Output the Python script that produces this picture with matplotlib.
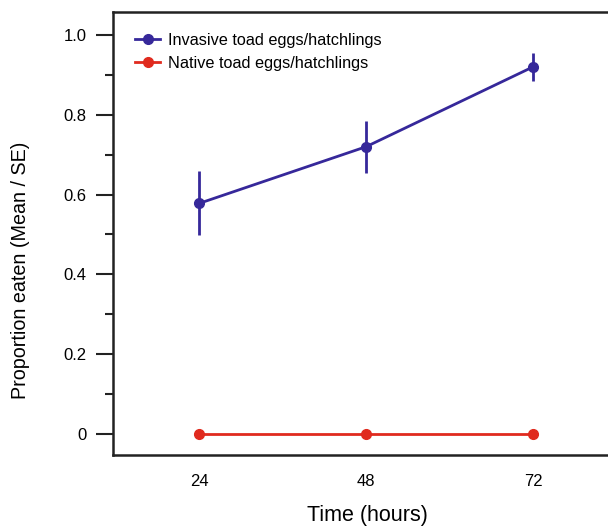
import matplotlib.pyplot as plt
from matplotlib.ticker import FixedLocator
from matplotlib.lines import Line2D

plt.rcParams['font.family'] = ['Liberation Sans', 'DejaVu Sans']

# ==================================================
# Data
# ==================================================
hours = [24, 48, 72]
invasive_mean = [0.578, 0.72, 0.92]
invasive_se = [0.08, 0.065, 0.035]
native_mean = [0.0, 0.0, 0.0]
labels = ["Invasive toad eggs/hatchlings", "Native toad eggs/hatchlings"]

blue = "#36289a"
red = "#e02a1e"

fig = plt.figure(figsize=(6.08, 5.29), dpi=100)
# axes box runs a little past the right edge of the image
ax = fig.add_axes([113 / 608, 1 - 455 / 529, 508 / 608, (455 - 12) / 529])

ax.errorbar(hours, invasive_mean, yerr=invasive_se, color=blue, marker="o",
            markersize=7, linewidth=2, elinewidth=2, capsize=0)
ax.plot(hours, native_mean, color=red, marker="o", markersize=7, linewidth=2)

ax.set_xlim(11.6, 84.65)
ax.set_ylim(-0.0525, 1.0575)

ax.set_xticks(hours)
ax.set_xticklabels([str(h) for h in hours])
ax.yaxis.set_major_locator(FixedLocator([0, 0.2, 0.4, 0.6, 0.8, 1.0]))
ax.set_yticklabels(["0", "0.2", "0.4", "0.6", "0.8", "1.0"])
ax.yaxis.set_minor_locator(FixedLocator([0.1, 0.3, 0.5, 0.7, 0.9]))

ax.tick_params(axis="y", which="major", length=12, width=1.5, labelsize=12,
               pad=7, direction="out", color="#222222")
ax.tick_params(axis="y", which="minor", length=6, width=1.5, direction="out",
               color="#222222")
ax.tick_params(axis="x", length=0, labelsize=12, pad=14)

for side in ["left", "top", "bottom", "right"]:
    ax.spines[side].set_linewidth(1.8)
    ax.spines[side].set_color("#222222")

ax.set_xlabel("Time (hours)", fontsize=15.5)
ax.set_ylabel("Proportion eaten (Mean / SE)", fontsize=14.2)
ax.xaxis.set_label_coords(0.5, -(505 - 455) / 443)
ax.yaxis.set_label_coords((21 - 113) / 508, (455 - 270) / 443)
ax.yaxis.label.set_va("center")
ax.xaxis.label.set_va("top")

handles = [Line2D([], [], color=blue, marker="o", markersize=7, linewidth=2),
           Line2D([], [], color=red, marker="o", markersize=7, linewidth=2)]
ax.legend(handles, labels, loc="upper left", frameon=False, fontsize=11.7,
          handlelength=1.55, handletextpad=0.45, labelspacing=0.5,
          borderpad=0.3, bbox_to_anchor=(9 / 508, 1 - 8 / 443))

plt.savefig("out.png", dpi=100)
plt.close()
